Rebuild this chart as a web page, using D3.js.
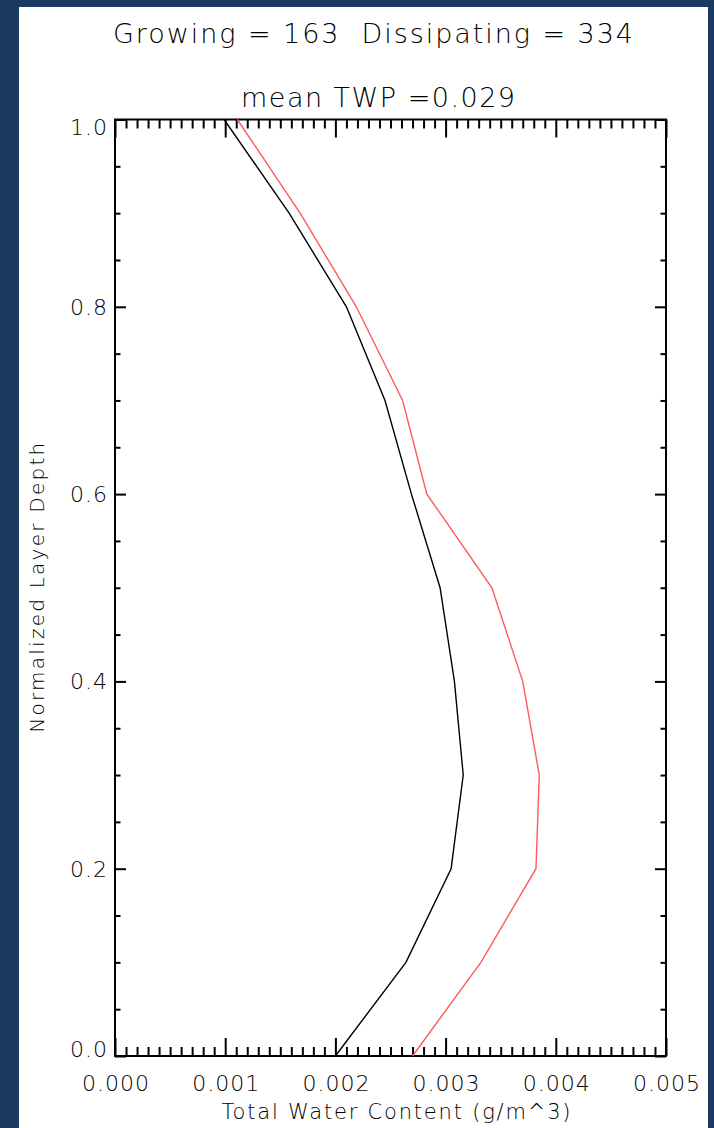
<!DOCTYPE html>
<html>
<head>
<meta charset="utf-8">
<script src="https://cdn.jsdelivr.net/npm/d3@7"></script>
<style>
  html, body { margin: 0; padding: 0; background: #1a3a5f; }
  svg { display: block; }
  text { font-family: "DejaVu Sans", sans-serif; font-weight: 200; fill: #000; white-space: pre; }
</style>
</head>
<body>
<div id="chart"></div>
<script>
// Normalized layer depth levels
const depth = [0.0, 0.1, 0.2, 0.3, 0.4, 0.5, 0.6, 0.7, 0.8, 0.9, 1.0];
// Total water content profiles (g/m^3)
const blackTwc = [0.00200, 0.00264, 0.00305, 0.00316, 0.00308, 0.00295, 0.00269, 0.00245, 0.00210, 0.00158, 0.00099];
const redTwc = [0.00270, 0.00332, 0.00382, 0.00385, 0.00370, 0.00342, 0.00283, 0.00261, 0.00219, 0.00168, 0.00111];

const xMajor = [0, 0.001, 0.002, 0.003, 0.004, 0.005];
const yMajor = [0, 0.2, 0.4, 0.6, 0.8, 1.0];
const titleLine1 = "Growing = 163  Dissipating = 334";
const titleLine2 = "mean TWP =0.029";
const xTitle = "Total Water Content (g/m^3)";
const yTitle = "Normalized Layer Depth";

const width = 714, height = 1128;
const plot = { left: 115, right: 666, top: 119.5, bottom: 1056 };

const svg = d3.select("#chart").append("svg")
    .attr("width", width)
    .attr("height", height);

// white panel over the navy background
svg.append("rect")
    .attr("x", 19).attr("y", 7)
    .attr("width", 689).attr("height", height - 7)
    .attr("fill", "#fff");

const x = d3.scaleLinear().domain([0, 0.005]).range([plot.left, plot.right]);
const y = d3.scaleLinear().domain([0, 1]).range([plot.bottom, plot.top]);

// minor tick positions
const xMinor = d3.range(0, 51).map(i => i * 0.0001).filter(v => !xMajor.some(m => Math.abs(m - v) < 1e-9));
const yMinor = d3.range(0, 21).map(i => i * 0.05).filter(v => !yMajor.some(m => Math.abs(m - v) < 1e-9));

const tickStyle = g => {
    g.select(".domain").remove();
    g.selectAll("line").attr("stroke", "#000").attr("stroke-width", 2);
    g.selectAll("text").remove();
};

// inward ticks on all four sides
const addTicks = (axisFn, scale, vals, len, tx, ty) => {
    svg.append("g")
        .attr("transform", `translate(${tx},${ty})`)
        .call(axisFn(scale).tickValues(vals).tickSize(len).tickFormat(""))
        .call(tickStyle);
};
addTicks(d3.axisBottom, x, xMajor, -18, 0, plot.bottom);
addTicks(d3.axisBottom, x, xMinor, -9, 0, plot.bottom);
addTicks(d3.axisTop, x, xMajor, -18, 0, plot.top);
addTicks(d3.axisTop, x, xMinor, -9, 0, plot.top);
addTicks(d3.axisLeft, y, yMajor, -11, plot.left, 0);
addTicks(d3.axisLeft, y, yMinor, -5.5, plot.left, 0);
addTicks(d3.axisRight, y, yMajor, -11, plot.right, 0);
addTicks(d3.axisRight, y, yMinor, -5.5, plot.right, 0);

// frame
svg.append("rect")
    .attr("x", plot.left).attr("y", plot.top)
    .attr("width", plot.right - plot.left)
    .attr("height", plot.bottom - plot.top)
    .attr("fill", "none")
    .attr("stroke", "#000")
    .attr("stroke-width", 2);

// x tick labels
svg.append("g")
    .attr("transform", `translate(0,${plot.bottom})`)
    .call(d3.axisBottom(x).tickValues(xMajor).tickSize(0).tickPadding(19).tickFormat(d3.format(".3f")))
    .call(g => g.select(".domain").remove())
    .call(g => g.selectAll("text")
        .attr("font-family", "DejaVu Sans, sans-serif")
        .attr("font-size", 22)
        .attr("textLength", 67)
        .attr("lengthAdjust", "spacing")
        .attr("fill", "#000"));

// y tick labels, end labels kept inside the axis span
svg.append("g")
    .selectAll("text")
    .data(yMajor)
    .join("text")
    .attr("x", plot.left - 8)
    .attr("y", d => Math.min(Math.max(y(d), plot.top + 8), plot.bottom - 7))
    .attr("dy", "0.36em")
    .attr("text-anchor", "end")
    .attr("font-size", 22)
    .attr("textLength", 37)
    .attr("lengthAdjust", "spacing")
    .text(d => d3.format(".1f")(d));

// profiles
const line = d3.line()
    .x(d => x(d[0]))
    .y(d => y(d[1]));

svg.append("path")
    .datum(blackTwc.map((v, i) => [v, depth[i]]))
    .attr("d", line)
    .attr("fill", "none")
    .attr("stroke", "#000")
    .attr("stroke-width", 1.4);

svg.append("path")
    .datum(redTwc.map((v, i) => [v, depth[i]]))
    .attr("d", line)
    .attr("fill", "none")
    .attr("stroke", "#ff5a5a")
    .attr("stroke-width", 1.4);

// titles
svg.append("text")
    .attr("x", 373).attr("y", 43)
    .attr("text-anchor", "middle")
    .attr("font-size", 27)
    .attr("textLength", 520)
    .attr("lengthAdjust", "spacing")
    .text(titleLine1);

svg.append("text")
    .attr("x", 378).attr("y", 107)
    .attr("text-anchor", "middle")
    .attr("font-size", 27)
    .attr("textLength", 274)
    .attr("lengthAdjust", "spacing")
    .text(titleLine2);

svg.append("text")
    .attr("x", 396).attr("y", 1119)
    .attr("text-anchor", "middle")
    .attr("font-size", 21)
    .attr("textLength", 349)
    .attr("lengthAdjust", "spacing")
    .text(xTitle);

svg.append("text")
    .attr("transform", `translate(44,${(plot.top + plot.bottom) / 2}) rotate(-90)`)
    .attr("text-anchor", "middle")
    .attr("font-size", 20)
    .attr("textLength", 290)
    .attr("lengthAdjust", "spacing")
    .text(yTitle);
</script>
</body>
</html>
